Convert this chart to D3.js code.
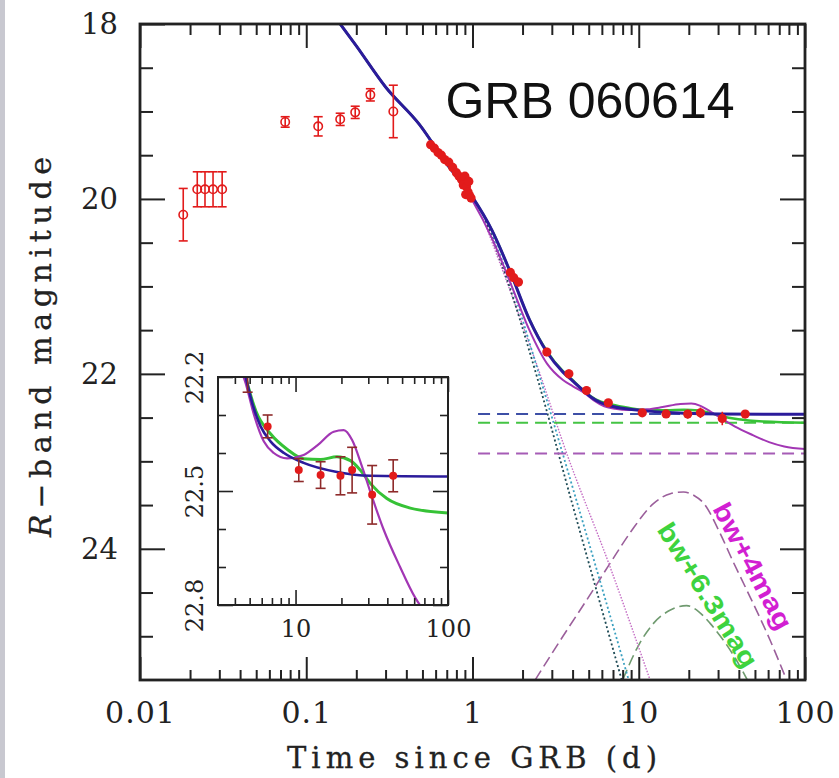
<!DOCTYPE html>
<html>
<head>
<meta charset="utf-8">
<script src="https://cdn.jsdelivr.net/npm/d3@7"></script>
<style>
  html, body { margin: 0; padding: 0; background: #fff; }
  svg { display: block; }
</style>
</head>
<body>
<svg id="chart" width="839" height="778"></svg>
<script>
// ---- Photometry: early-time (open circles) ----
const earlyT   = [0.0182, 0.0221, 0.0246, 0.0275, 0.0312, 0.0747, 0.118, 0.160, 0.197, 0.243, 0.334];
const earlyMag = [20.18, 19.89, 19.89, 19.89, 19.89, 19.12, 19.17, 19.09, 19.01, 18.81, 19.00];
const earlyErr = [0.30, 0.20, 0.20, 0.20, 0.20, 0.06, 0.11, 0.07, 0.07, 0.07, 0.30];

// ---- Photometry: later epochs (filled circles) ----
const lateT   = [0.56, 0.59, 0.62, 0.65, 0.68, 0.72, 0.76, 0.80, 0.83, 0.86, 0.88, 0.90, 0.91, 0.92, 0.94, 0.95, 0.96, 0.98,
                 1.69, 1.77, 1.89, 2.80, 3.80, 4.85, 6.56, 10.5, 14.6, 19.7, 23.5, 31.8, 43.7];
const lateMag = [19.38, 19.42, 19.47, 19.50, 19.55, 19.58, 19.64, 19.70, 19.74, 19.78, 19.84, 19.74, 19.95, 19.86, 19.92, 19.80, 19.96, 19.99,
                 20.84, 20.90, 20.95, 21.75, 22.00, 22.19, 22.33, 22.445, 22.458, 22.46, 22.445, 22.51, 22.46];
const lateErr = [0.03, 0.03, 0.03, 0.03, 0.03, 0.03, 0.03, 0.03, 0.03, 0.03, 0.03, 0.03, 0.03, 0.03, 0.03, 0.03, 0.03, 0.03,
                 0.05, 0.05, 0.05, 0.05, 0.05, 0.05, 0.03, 0.03, 0.035, 0.05, 0.06, 0.077, 0.042];

// ---- Model light curves: total (afterglow + SN + host), [days, mag] ----
const fitBlue = [[0.14,17.85],[0.2,18.25],[0.3,18.72],[0.48,19.15],[0.7,19.6],[1.0,19.98],[1.31,20.36],[1.7,20.85],
  [2.2,21.38],[2.8,21.75],[3.5,21.98],[4.0,22.08],[4.71,22.2],[5.21,22.27],[5.9,22.33],[6.87,22.37],[8.4,22.40],
  [11.3,22.426],[18.7,22.45],[30.9,22.46],[100,22.462]];
const fitGreen = [[0.14,17.85],[0.2,18.25],[0.3,18.72],[0.48,19.15],[0.7,19.6],[1.0,19.98],[1.31,20.36],[1.7,20.85],
  [2.2,21.38],[2.8,21.74],[3.5,21.97],[4.0,22.07],[4.71,22.2],[5.5,22.29],[6.87,22.35],[8.8,22.39],[11.3,22.415],
  [14.6,22.417],[18.7,22.41],[22.9,22.42],[26.6,22.445],[30.9,22.48],[39.7,22.52],[56.6,22.545],[100,22.558]];
const fitMagenta = [[0.14,17.85],[0.2,18.25],[0.3,18.72],[0.48,19.15],[0.7,19.6],[1.0,20.02],[1.31,20.45],[1.7,20.97],
  [2.2,21.5],[2.8,21.88],[3.5,22.07],[4.0,22.14],[4.71,22.217],[5.34,22.30],[6.2,22.37],[7.2,22.40],[8.8,22.414],
  [11.3,22.405],[13.9,22.38],[17.8,22.344],[20.7,22.34],[23.5,22.366],[27.3,22.436],[31.7,22.515],[37.7,22.60],
  [48.5,22.70],[60.8,22.78],[75,22.83],[100,22.86]];

// ---- Afterglow-only components (dotted) ----
const agBlue    = [[1.2,20.25],[1.6,20.9],[2.5,22.1],[4.0,23.5],[7.9,25.5]];
const agGreen   = [[1.2,20.25],[1.65,20.9],[2.6,22.1],[4.3,23.5],[8.7,25.5]];
const agMagenta = [[1.2,20.3],[1.8,21.2],[2.6,22.05],[3.52,22.8],[6.7,24.2],[11.7,25.5]];

// ---- Supernova components (SN 1998bw shifted) ----
const snBright = [[2.38,25.5],[3.5,25.0],[5.0,24.55],[6.7,24.17],[9.0,23.8],[12.3,23.48],[15.5,23.37],[18.6,23.35],
  [21.5,23.39],[24.6,23.48],[30.8,23.82],[37,24.15],[44.6,24.47],[61.5,25.04],[77.5,25.5]];
const snFaint  = [[8.0,25.5],[10,25.1],[12.3,24.85],[15.5,24.7],[19.4,24.65],[23,24.72],[26.8,24.85],[31,25.0],
  [37.5,25.23],[45,25.5]];

// ---- Host-galaxy levels (dashed) ----
const hostStart = 1.08, hostEnd = 100;
const hostMag = { blue: 22.46, green: 22.56, magenta: 22.91 };

// ---- Axis ticks ----
const mainXMajor = [0.01, 0.1, 1, 10, 100];
const mainXMinor = [2,3,4,5,6,7,8,9].flatMap(k => [k*0.01, k*0.1, k, k*10]);
const mainYMajor = [18, 20, 22, 24];
const mainYMinor = [18.5,19,19.5,20.5,21,21.5,22.5,23,23.5,24.5,25];
const insetXMajor = [10, 100];
const insetXMinor = [4,5,6,7,8,9,20,30,40,50,60,70,80,90];
const insetYMajor = [22.2, 22.5, 22.8];
const insetYMinor = [22.3, 22.4, 22.6, 22.7];

// ---- Colours ----
const C = {
  red: "#e21b1b", errDark: "#8e2a2a",
  blue: "#2b1b9b", green: "#36c236", magenta: "#a236b4",
  hostBlue: "#3d4fa6", hostGreen: "#44c444", hostMagenta: "#a65cb6",
  agBlue: "#1d4a55", agGreen: "#3aa0c0", agMagenta: "#c46cc4",
  snBright: "#9b5f9b", snFaint: "#6f9a6f",
  lblBright: "#d21fd2", lblFaint: "#3ed33e", axis: "#222"
};

const svg = d3.select("#chart");
svg.append("rect").attr("width", 839).attr("height", 778).attr("fill", "#fff");
svg.append("rect").attr("width", 5).attr("height", 778).attr("fill", "#c8c8d0");

// ---- Main panel scales ----
const M = { l: 140, t: 24, r: 805, b: 680 };
const x = d3.scaleLog().domain([0.01, 100]).range([M.l, M.r]);
const y = d3.scaleLinear().domain([18, 25.5]).range([M.t, M.b]);

const defs = svg.append("defs");
defs.append("clipPath").attr("id", "clipMain").append("rect")
  .attr("x", M.l).attr("y", M.t).attr("width", M.r - M.l).attr("height", M.b - M.t);

const plot = svg.append("g").attr("clip-path", "url(#clipMain)");
const line = d3.line().x(d => x(d[0])).y(d => y(d[1])).curve(d3.curveMonotoneX);

// supernova components
plot.append("path").datum(snFaint).attr("d", line).attr("fill", "none")
  .attr("stroke", C.snFaint).attr("stroke-width", 1.6).attr("stroke-dasharray", "11,5");
plot.append("path").datum(snBright).attr("d", line).attr("fill", "none")
  .attr("stroke", C.snBright).attr("stroke-width", 1.6).attr("stroke-dasharray", "11,5");

// afterglow components
plot.append("path").datum(agMagenta).attr("d", line).attr("fill", "none")
  .attr("stroke", C.agMagenta).attr("stroke-width", 1.4).attr("stroke-dasharray", "1.5,1.5");
plot.append("path").datum(agGreen).attr("d", line).attr("fill", "none")
  .attr("stroke", C.agGreen).attr("stroke-width", 1.8).attr("stroke-dasharray", "2,2.5");
plot.append("path").datum(agBlue).attr("d", line).attr("fill", "none")
  .attr("stroke", C.agBlue).attr("stroke-width", 1.8).attr("stroke-dasharray", "2,2.5");

// host levels
[["magenta", C.hostMagenta], ["green", C.hostGreen], ["blue", C.hostBlue]].forEach(([k, col]) => {
  plot.append("line")
    .attr("x1", x(hostStart)).attr("x2", x(hostEnd))
    .attr("y1", y(hostMag[k])).attr("y2", y(hostMag[k]))
    .attr("stroke", col).attr("stroke-width", 2).attr("stroke-dasharray", "12,7");
});

// total model curves
plot.append("path").datum(fitGreen).attr("d", line).attr("fill", "none")
  .attr("stroke", C.green).attr("stroke-width", 2.5);
plot.append("path").datum(fitMagenta).attr("d", line).attr("fill", "none")
  .attr("stroke", C.magenta).attr("stroke-width", 2);
plot.append("path").datum(fitBlue).attr("d", line).attr("fill", "none")
  .attr("stroke", C.blue).attr("stroke-width", 3);

// early photometry: open circles with error bars
const early = earlyT.map((t, i) => ({ t, m: earlyMag[i], e: earlyErr[i] }));
const eg = plot.append("g").attr("stroke", C.red).attr("fill", "none").attr("stroke-width", 1.6);
early.forEach(d => {
  const cx = x(d.t);
  eg.append("line").attr("x1", cx).attr("x2", cx).attr("y1", y(d.m - d.e)).attr("y2", y(d.m + d.e));
  [d.m - d.e, d.m + d.e].forEach(v => eg.append("line")
    .attr("x1", cx - 4.5).attr("x2", cx + 4.5).attr("y1", y(v)).attr("y2", y(v)));
  eg.append("circle").attr("cx", cx).attr("cy", y(d.m)).attr("r", 4.2);
});

// later photometry: filled circles
const late = lateT.map((t, i) => ({ t, m: lateMag[i], e: lateErr[i] }));
const lg = plot.append("g");
late.forEach(d => {
  const cx = x(d.t);
  lg.append("line").attr("x1", cx).attr("x2", cx).attr("y1", y(d.m - d.e)).attr("y2", y(d.m + d.e))
    .attr("stroke", C.red).attr("stroke-width", 1.6);
});
lg.selectAll("circle").data(late).join("circle")
  .attr("cx", d => x(d.t)).attr("cy", d => y(d.m)).attr("r", 4.6).attr("fill", C.red);

// SN labels
svg.append("text").text("bw+4mag")
  .attr("transform", "translate(753,566) rotate(62)")
  .attr("text-anchor", "middle").attr("dy", "0.35em")
  .attr("font-family", "Liberation Sans, Arial, sans-serif").attr("font-weight", "bold")
  .attr("font-size", 26).attr("textLength", 140).attr("lengthAdjust", "spacingAndGlyphs")
  .attr("fill", C.lblBright);
svg.append("text").text("bw+6.3mag")
  .attr("transform", "translate(708,595) rotate(58)")
  .attr("text-anchor", "middle").attr("dy", "0.35em")
  .attr("font-family", "Liberation Sans, Arial, sans-serif").attr("font-weight", "bold")
  .attr("font-size", 26).attr("textLength", 166).attr("lengthAdjust", "spacingAndGlyphs")
  .attr("fill", C.lblFaint);

// ---- Main axes ----
const serif = "DejaVu Serif, serif";
function styleAxis(g) {
  g.select(".domain").remove();
  g.selectAll("line").attr("stroke", C.axis).attr("stroke-width", 2);
  g.selectAll("text").attr("font-family", serif).attr("fill", "#222");
}
svg.append("g").attr("transform", `translate(0,${M.b})`)
  .call(d3.axisBottom(x).tickValues(mainXMinor).tickSize(-10).tickFormat(""))
  .call(styleAxis);
svg.append("g").attr("transform", `translate(0,${M.b})`)
  .call(d3.axisBottom(x).tickValues(mainXMajor).tickSize(-23).tickPadding(22)
    .tickFormat(d => d >= 1 ? d3.format("d")(d) : String(d)))
  .call(styleAxis).call(g => g.selectAll("text").attr("font-size", 30).attr("letter-spacing", 1));
svg.append("g").attr("transform", `translate(0,${M.t})`)
  .call(d3.axisTop(x).tickValues(mainXMinor).tickSize(-11).tickFormat(""))
  .call(styleAxis);
svg.append("g").attr("transform", `translate(0,${M.t})`)
  .call(d3.axisTop(x).tickValues(mainXMajor).tickSize(-24).tickFormat(""))
  .call(styleAxis);
svg.append("g").attr("transform", `translate(${M.l},0)`)
  .call(d3.axisLeft(y).tickValues(mainYMinor).tickSize(-13).tickFormat(""))
  .call(styleAxis);
svg.append("g").attr("transform", `translate(${M.l},0)`)
  .call(d3.axisLeft(y).tickValues(mainYMajor).tickSize(-25).tickPadding(22).tickFormat(d3.format("d")))
  .call(styleAxis).call(g => g.selectAll("text").attr("font-size", 29));
svg.append("g").attr("transform", `translate(${M.r},0)`)
  .call(d3.axisRight(y).tickValues(mainYMinor).tickSize(-13).tickFormat(""))
  .call(styleAxis);
svg.append("g").attr("transform", `translate(${M.r},0)`)
  .call(d3.axisRight(y).tickValues(mainYMajor).tickSize(-25).tickFormat(""))
  .call(styleAxis);
svg.append("rect").attr("x", M.l).attr("y", M.t).attr("width", M.r - M.l).attr("height", M.b - M.t)
  .attr("fill", "none").attr("stroke", C.axis).attr("stroke-width", 2.8);

// axis titles
svg.append("text").text("Time since GRB (d)")
  .attr("x", 472).attr("y", 768).attr("text-anchor", "middle")
  .attr("font-family", serif).attr("font-size", 29).attr("fill", "#222")
  .attr("stroke", "#222").attr("stroke-width", 0.3)
  .attr("textLength", 370).attr("lengthAdjust", "spacing");
const yt = svg.append("text")
  .attr("transform", "translate(51,347) rotate(-90)").attr("text-anchor", "middle")
  .attr("font-family", serif).attr("font-size", 30).attr("fill", "#222")
  .attr("stroke", "#222").attr("stroke-width", 0.3)
  .attr("textLength", 380).attr("lengthAdjust", "spacing");
yt.append("tspan").attr("font-style", "italic").text("R");
yt.append("tspan").text("\u2212band magnitude");

// title
svg.append("text").text("GRB 060614")
  .attr("x", 590).attr("y", 118).attr("text-anchor", "middle")
  .attr("font-family", "Liberation Sans, Arial, sans-serif").attr("font-size", 50).attr("fill", "#111");

// ---- Inset ----
const I = { l: 218, t: 377, r: 448, b: 605 };
const xi = d3.scaleLog().domain([3.1, 100]).range([I.l, I.r]);
const yi = d3.scaleLinear().domain([22.2, 22.8]).range([I.t, I.b]);
defs.append("clipPath").attr("id", "clipInset").append("rect")
  .attr("x", I.l).attr("y", I.t).attr("width", I.r - I.l).attr("height", I.b - I.t);
svg.append("rect").attr("x", I.l).attr("y", I.t).attr("width", I.r - I.l).attr("height", I.b - I.t)
  .attr("fill", "#fff");
const ip = svg.append("g").attr("clip-path", "url(#clipInset)");
const lineI = d3.line().x(d => xi(d[0])).y(d => yi(d[1])).curve(d3.curveMonotoneX);
ip.append("path").datum(fitGreen).attr("d", lineI).attr("fill", "none")
  .attr("stroke", C.green).attr("stroke-width", 3);
ip.append("path").datum(fitMagenta).attr("d", lineI).attr("fill", "none")
  .attr("stroke", C.magenta).attr("stroke-width", 2.2);
ip.append("path").datum(fitBlue).attr("d", lineI).attr("fill", "none")
  .attr("stroke", C.blue).attr("stroke-width", 2.6);
const lateI = late.filter(d => d.t > 3);
lateI.forEach(d => {
  const cx = xi(d.t);
  ip.append("line").attr("x1", cx).attr("x2", cx).attr("y1", yi(d.m - d.e)).attr("y2", yi(d.m + d.e))
    .attr("stroke", C.errDark).attr("stroke-width", 1.6);
  [d.m - d.e, d.m + d.e].forEach(v => ip.append("line")
    .attr("x1", cx - 5).attr("x2", cx + 5).attr("y1", yi(v)).attr("y2", yi(v))
    .attr("stroke", C.errDark).attr("stroke-width", 1.6));
});
ip.selectAll("circle").data(lateI).join("circle")
  .attr("cx", d => xi(d.t)).attr("cy", d => yi(d.m)).attr("r", 4).attr("fill", C.red);

function styleInset(g) {
  g.select(".domain").remove();
  g.selectAll("line").attr("stroke", C.axis).attr("stroke-width", 1.6);
  g.selectAll("text").attr("font-family", serif).attr("fill", "#222").attr("font-size", 24);
}
svg.append("g").attr("transform", `translate(0,${I.b})`)
  .call(d3.axisBottom(xi).tickValues(insetXMinor).tickSize(-7).tickFormat("")).call(styleInset);
svg.append("g").attr("transform", `translate(0,${I.b})`)
  .call(d3.axisBottom(xi).tickValues(insetXMajor).tickSize(-15).tickPadding(15).tickFormat(d3.format("d")))
  .call(styleInset);
svg.append("g").attr("transform", `translate(0,${I.t})`)
  .call(d3.axisTop(xi).tickValues(insetXMinor).tickSize(-7).tickFormat("")).call(styleInset);
svg.append("g").attr("transform", `translate(0,${I.t})`)
  .call(d3.axisTop(xi).tickValues(insetXMajor).tickSize(-15).tickFormat("")).call(styleInset);
svg.append("g").attr("transform", `translate(${I.l},0)`)
  .call(d3.axisLeft(yi).tickValues(insetYMinor).tickSize(-8).tickFormat("")).call(styleInset);
svg.append("g").attr("transform", `translate(${I.l},0)`)
  .call(d3.axisLeft(yi).tickValues(insetYMajor).tickSize(-15).tickFormat(d3.format(".1f")))
  .call(styleInset)
  .call(g => g.selectAll("text").attr("x", null).attr("dy", null)
    .attr("transform", "translate(-15,0) rotate(-90)").attr("text-anchor", "middle"));
svg.append("g").attr("transform", `translate(${I.r},0)`)
  .call(d3.axisRight(yi).tickValues(insetYMinor).tickSize(-8).tickFormat("")).call(styleInset);
svg.append("g").attr("transform", `translate(${I.r},0)`)
  .call(d3.axisRight(yi).tickValues(insetYMajor).tickSize(-15).tickFormat("")).call(styleInset);
svg.append("rect").attr("x", I.l).attr("y", I.t).attr("width", I.r - I.l).attr("height", I.b - I.t)
  .attr("fill", "none").attr("stroke", C.axis).attr("stroke-width", 2);
</script>
</body>
</html>
